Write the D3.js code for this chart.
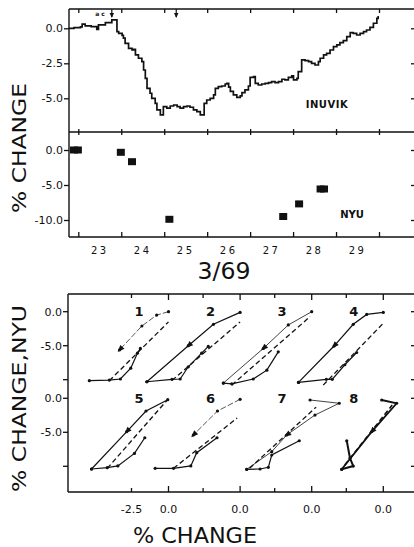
<!DOCTYPE html>
<html><head><meta charset="utf-8">
<script src="https://cdn.jsdelivr.net/npm/d3@7"></script>
<style>
body{margin:0;background:#fff}
svg{display:block}
text{font-family:"DejaVu Sans",sans-serif;fill:#111}
</style>
</head><body>
<svg id="c" width="414" height="547"></svg>
<script>
// ---------- DATA ----------
const dayTicks = [23, 24, 25, 26, 27, 28, 29, 30];
const dayLabels = ["23", "24", "25", "26", "27", "28", "29"];
const inuvikTicks = [0, -2.5, -5];
const nyuTicks = [0, -5, -10];

const inuvikDays = [22.78, 22.9, 23.05, 23.09, 23.16, 23.3, 23.43, 23.47, 23.63, 23.78, 23.9, 23.94, 24.02, 24.05, 24.09, 24.17, 24.25, 24.29, 24.33, 24.4, 24.48, 24.52, 24.56, 24.6, 24.67, 24.71, 24.79, 24.83, 24.91, 24.98, 25.06, 25.14, 25.22, 25.3, 25.37, 25.45, 25.53, 25.6, 25.68, 25.76, 25.84, 25.93, 25.99, 26.07, 26.15, 26.19, 26.26, 26.34, 26.42, 26.46, 26.5, 26.54, 26.61, 26.69, 26.77, 26.81, 26.88, 26.96, 27.0, 27.08, 27.12, 27.19, 27.27, 27.35, 27.43, 27.5, 27.58, 27.66, 27.74, 27.81, 27.89, 27.97, 28.01, 28.09, 28.12, 28.2, 28.28, 28.36, 28.43, 28.51, 28.59, 28.63, 28.71, 28.78, 28.86, 28.94, 29.02, 29.09, 29.17, 29.25, 29.33, 29.4, 29.48, 29.56, 29.64, 29.71, 29.79, 29.87, 29.95, 29.98];
const inuvikValues = [0.0, 0.05, 0.1, 0.3, 0.18, 0.12, -0.07, 0.24, 0.4, 0.6, -0.24, -0.36, -0.5, -0.7, -1.07, -1.43, -1.55, -1.5, -1.9, -2.14, -2.38, -2.98, -3.57, -4.29, -4.64, -5.0, -5.36, -5.83, -6.19, -5.6, -5.7, -5.55, -5.48, -5.6, -5.7, -5.6, -5.55, -5.64, -5.83, -5.95, -6.19, -5.36, -5.12, -5.0, -4.76, -4.29, -4.17, -4.12, -3.98, -3.93, -4.2, -4.5, -4.76, -4.93, -4.83, -4.6, -4.4, -4.12, -3.5, -3.45, -3.93, -4.05, -3.98, -3.93, -3.88, -3.81, -3.88, -3.81, -3.64, -3.69, -3.5, -3.4, -3.69, -3.57, -3.1, -2.26, -2.31, -2.38, -2.5, -2.62, -2.38, -2.14, -1.9, -1.79, -1.55, -1.31, -1.19, -1.02, -0.88, -0.6, -0.31, -0.36, -0.48, -0.36, -0.24, -0.12, 0.07, 0.36, 0.71, 0.88];

const nyuDays = [22.9, 22.99, 23.99, 24.25, 25.12, 27.77, 28.14, 28.64, 28.72];
const nyuValues = [0, 0, -0.33, -1.67, -9.9, -9.5, -7.7, -5.57, -5.57];

const panelNames = ["1", "2", "3", "4", "5", "6", "7", "8"];
const changeTicks = [0, -2.5];
const bottomTickLabels = [["-2.5", "0.0"], ["0.0"], ["0.0"], ["0.0"]];
const bottomTickLabelValues = [[-2.5, 0], [0], [0], [0]];
const rowTicks = [0, -5, -10];
const rowTickLabels = ["0.0", "-5.0", ""];

// descending track (INUVIK %, NYU %)
const loopDown = [
  [[0, 0], [-0.8, -0.5], [-1.8, -2.1], [-3.3, -5.6]],
  [[0, -0.1], [-1.8, -1.85], [-3.5, -5.0], [-6.3, -10.3]],
  [[0, 0], [-1.58, -1.95], [-3.27, -5.4], [-5.97, -10.5]],
  [[0, -0.1], [-1.12, -0.4], [-2.03, -1.85], [-3.33, -5.05], [-5.73, -10.4]],
  [[-0.05, -0.2], [-1.52, -1.87], [-2.82, -4.9], [-5.2, -10.4]],
  [[0, -0.15], [-1.53, -1.87], [-3.16, -5.4]],
  [[-0.11, -0.25], [1.86, -0.73], [0.22, -2.46], [-1.69, -5.4], [-2.7, -7.85], [-4.39, -10.44]],
  [[-0.11, -0.25], [0.9, -0.73], [-0.78, -4.9], [-2.81, -10.44]]
];
// bottom + rising track
const loopUp = [
  [[-5.35, -10.15], [-4.0, -10.05], [-3.25, -9.9], [-2.55, -8.3], [-2.1, -6.1], [-1.9, -5.4]],
  [[-6.3, -10.3], [-4.6, -9.95], [-4.05, -9.9], [-3.5, -8.1], [-2.6, -6.1], [-2.15, -5.1]],
  [[-5.97, -10.5], [-5.4, -10.6], [-3.95, -9.9], [-3.03, -8.6], [-2.26, -5.9]],
  [[-5.73, -10.4], [-3.85, -9.95], [-3.45, -9.95], [-2.6, -7.8], [-1.8, -6.0]],
  [[-5.2, -10.4], [-4.14, -10.2], [-3.42, -9.95], [-2.3, -8.1], [-1.6, -5.8]],
  [[-5.74, -10.3], [-4.5, -10.3], [-3.33, -9.95], [-2.93, -8.0], [-1.56, -5.8]],
  [[-4.39, -10.44], [-3.49, -10.4], [-2.93, -10.15], [-2.7, -8.34], [-0.84, -6.24]],
  [[-2.81, -10.44], [-2.03, -9.96], [-2.25, -8.8], [-2.47, -6.24]]
];
const loopDash = [
  [[-4.0, -10.15], [0, -1.5]],
  [[-4.6, -10.1], [0, -1.5]],
  [[-5.4, -10.8], [-0.1, -0.7]],
  [[-4.06, -10.8], [0, -1.7]],
  [[-4.14, -10.3], [-0.1, -0.3]],
  [[-4.5, -10.3], [-0.2, -2.9]],
  [[-4.2, -10.3], [0.3, -1.3]],
  [[-2.6, -9.8], [0.6, -1.0]]
];
const arrowIndex = [3, 2, 2, 3, 2, 2, 3, 2];

// ---------- DRAW ----------
const svg = d3.select("#c");
svg.append("rect").attr("width", 414).attr("height", 547).attr("fill", "#fff");
const INK = "#111";

// top two panels
const LEFT = 69, RIGHT = 416, TOP = 9, MID = 132, BOT = 237;
const xDay = d3.scaleLinear().domain([23, 30]).range([78.3, 379]);
const yInu = d3.scaleLinear().domain([0, -5]).range([28.3, 98.3]);
const yNyu = d3.scaleLinear().domain([0, -10]).range([150, 220]);

function hline(y, x1, x2, w) {
  svg.append("line").attr("x1", x1).attr("x2", x2).attr("y1", y).attr("y2", y)
    .attr("stroke", INK).attr("stroke-width", w || 1.4);
}
function vline(x, y1, y2, w) {
  svg.append("line").attr("x1", x).attr("x2", x).attr("y1", y1).attr("y2", y2)
    .attr("stroke", INK).attr("stroke-width", w || 1.4);
}
function styleAxis(sel, fs) {
  sel.select(".domain").remove();
  sel.selectAll("line").attr("stroke", INK).attr("stroke-width", 1.3);
  sel.selectAll("text").attr("font-size", fs || 11).attr("fill", INK)
    .attr("font-family", "DejaVu Sans, sans-serif");
}
const fmt = d => d.toFixed(1);

hline(TOP, LEFT, RIGHT);
hline(MID, LEFT, RIGHT);
hline(BOT, LEFT, RIGHT);
vline(LEFT, TOP, BOT);
vline(RIGHT, TOP, BOT);

styleAxis(svg.append("g").attr("transform", `translate(0,${TOP})`)
  .call(d3.axisTop(xDay).tickValues(dayTicks).tickSize(-4).tickFormat("")));
styleAxis(svg.append("g").attr("transform", `translate(0,${MID})`)
  .call(d3.axisTop(xDay).tickValues(dayTicks).tickSize(3).tickFormat("")));
styleAxis(svg.append("g").attr("transform", `translate(0,${MID})`)
  .call(d3.axisBottom(xDay).tickValues(dayTicks).tickSize(3).tickFormat("")));
styleAxis(svg.append("g").attr("transform", `translate(0,${BOT})`)
  .call(d3.axisBottom(xDay).tickValues(dayTicks).tickSize(-5).tickFormat("")));

styleAxis(svg.append("g").attr("transform", `translate(${LEFT},0)`)
  .call(d3.axisLeft(yInu).tickValues(inuvikTicks).tickSize(5).tickPadding(1).tickFormat(fmt)));
styleAxis(svg.append("g").attr("transform", `translate(${LEFT},0)`)
  .call(d3.axisLeft(yNyu).tickValues(nyuTicks).tickSize(5).tickPadding(1).tickFormat(fmt)));
styleAxis(svg.append("g").attr("transform", `translate(${RIGHT},0)`)
  .call(d3.axisLeft(yInu).tickValues(inuvikTicks).tickSize(5).tickFormat("")));
styleAxis(svg.append("g").attr("transform", `translate(${RIGHT},0)`)
  .call(d3.axisLeft(yNyu).tickValues(nyuTicks).tickSize(5).tickFormat("")));

// day labels
svg.append("g").selectAll("text").data(dayLabels).join("text")
  .attr("x", d => xDay(+d + 0.5)).attr("y", 254)
  .attr("text-anchor", "middle").attr("font-size", 10).attr("letter-spacing", 2.5)
  .text(d => d);

// INUVIK step line
const inuData = inuvikDays.map((d, i) => [d, inuvikValues[i]]);
svg.append("path").datum(inuData)
  .attr("fill", "none").attr("stroke", INK).attr("stroke-width", 1.7)
  .attr("d", d3.line().x(d => xDay(d[0])).y(d => yInu(d[1])).curve(d3.curveStepAfter));

// event markers at the top
svg.append("text").attr("x", 100).attr("y", 15.5).attr("text-anchor", "middle")
  .attr("font-size", 6).attr("font-weight", "bold").text("a c");
[[23.78], [25.28]].forEach(([d]) => {
  const x = xDay(d);
  vline(x, TOP, TOP + 8, 1.2);
  svg.append("path").attr("d", `M${x - 2.2},${TOP + 4} L${x + 2.2},${TOP + 4} L${x},${TOP + 9} Z`).attr("fill", INK);
});

// NYU squares
svg.append("g").selectAll("rect").data(nyuDays.map((d, i) => [d, nyuValues[i]])).join("rect")
  .attr("x", d => xDay(d[0]) - 4).attr("y", d => yNyu(d[1]) - 3.5)
  .attr("width", 8).attr("height", 7).attr("fill", INK);

svg.append("text").attr("x", 327).attr("y", 108).attr("text-anchor", "middle")
  .attr("font-size", 10).attr("font-weight", "bold").attr("letter-spacing", 0.5).text("INUVIK");
svg.append("text").attr("x", 352).attr("y", 218).attr("text-anchor", "middle")
  .attr("font-size", 10).attr("font-weight", "bold").text("NYU");

svg.append("text").attr("x", 224).attr("y", 279).attr("text-anchor", "middle")
  .attr("font-size", 23).attr("textLength", 53).attr("lengthAdjust", "spacingAndGlyphs").text("3/69");

svg.append("text").attr("transform", "translate(25.5,148) rotate(-90)")
  .attr("text-anchor", "middle").attr("font-size", 20)
  .attr("textLength", 130).attr("lengthAdjust", "spacingAndGlyphs").text("% CHANGE");

// bottom panel
const BL = 68, BT = 294, BB = 492;
const xCol = d3.scaleLinear().domain([0, 3]).range([168.5, 383.3]);
const xCh = d3.scaleLinear().domain([-2.5, 0]).range([-37, 0]);
const yRow = d3.scaleLinear().domain([0, 1]).range([311.7, 398.3]);
const yCh = d3.scaleLinear().domain([0, -10]).range([0, 68]);
const px = (c, v) => xCol(c) + xCh(v);
const py = (r, v) => yRow(r) + yCh(v);

hline(BT, BL, RIGHT);
hline(BB, BL, RIGHT);
vline(BL, BT, BB);
vline(RIGHT, BT, BB);

// x ticks for each column
[0, 1, 2, 3].forEach(c => {
  changeTicks.forEach(v => {
    const x = px(c, v), len = v === 0 ? 6 : 4;
    vline(x, BT, BT + len, 1.3);
    vline(x, BB - len, BB, 1.3);
  });
  bottomTickLabels[c].forEach((t, i) => {
    svg.append("text").attr("x", px(c, bottomTickLabelValues[c][i])).attr("y", 513)
      .attr("text-anchor", "middle").attr("font-size", 11).text(t);
  });
});
// y ticks per row
[0, 1].forEach(r => {
  rowTicks.forEach((v, i) => {
    const y = py(r, v);
    svg.append("line").attr("x1", BL - 5).attr("x2", BL).attr("y1", y).attr("y2", y)
      .attr("stroke", INK).attr("stroke-width", 1.3);
    svg.append("line").attr("x1", RIGHT - 5).attr("x2", RIGHT).attr("y1", y).attr("y2", y)
      .attr("stroke", INK).attr("stroke-width", 1.3);
    if (rowTickLabels[i]) svg.append("text").attr("x", BL - 6).attr("y", y + 4)
      .attr("text-anchor", "end").attr("font-size", 11).text(rowTickLabels[i]);
  });
});

const faint = new Set([0, 5]);
const thin = new Set([2, 6]);
const bold = new Set([7]);
panelNames.forEach((name, k) => {
  const c = k % 4, r = Math.floor(k / 4);
  const line = d3.line().x(d => px(c, d[0])).y(d => py(r, d[1]));
  const g = svg.append("g");
  g.append("text").attr("x", px(c, -2.0)).attr("y", py(r, 0) + 4.5).attr("text-anchor", "middle")
    .attr("font-size", 13).attr("font-weight", "bold").text(name);
  // dashed reference
  g.append("path").attr("d", line(loopDash[k])).attr("fill", "none").attr("stroke", INK)
    .attr("stroke-width", bold.has(k) ? 1.6 : 1.3).attr("stroke-dasharray", "5,3");
  // descending
  g.append("path").attr("d", line(loopDown[k])).attr("fill", "none").attr("stroke", INK)
    .attr("stroke-width", bold.has(k) ? 1.8 : (faint.has(k) ? 0.7 : (thin.has(k) ? 0.8 : 1.2)))
    .attr("stroke-dasharray", faint.has(k) ? "6,2" : null);
  // rising
  g.append("path").attr("d", line(loopUp[k])).attr("fill", "none").attr("stroke", INK)
    .attr("stroke-width", bold.has(k) ? 2 : 1.2);
  // dots
  g.selectAll("circle").data(loopDown[k].concat(loopUp[k])).join("circle")
    .attr("cx", d => px(c, d[0])).attr("cy", d => py(r, d[1])).attr("r", 1.6).attr("fill", INK);
  // arrow
  const a = loopDown[k][arrowIndex[k]], b = loopDown[k][arrowIndex[k] - 1];
  const ax = px(c, a[0]), ay = py(r, a[1]), bx = px(c, b[0]), by = py(r, b[1]);
  const ang = Math.atan2(ay - by, ax - bx) * 180 / Math.PI;
  g.append("path").attr("d", "M3,0 L-4,-2.8 L-4,2.8 Z").attr("fill", INK)
    .attr("transform", `translate(${ax},${ay}) rotate(${ang})`);
});

svg.append("text").attr("transform", "translate(26,398.5) rotate(-90)")
  .attr("text-anchor", "middle").attr("font-size", 20)
  .attr("textLength", 187).attr("lengthAdjust", "spacingAndGlyphs").text("% CHANGE,NYU");

svg.append("text").attr("x", 195).attr("y", 543).attr("text-anchor", "middle")
  .attr("font-size", 21).attr("textLength", 124).attr("lengthAdjust", "spacingAndGlyphs").text("% CHANGE");
</script>
</body></html>
